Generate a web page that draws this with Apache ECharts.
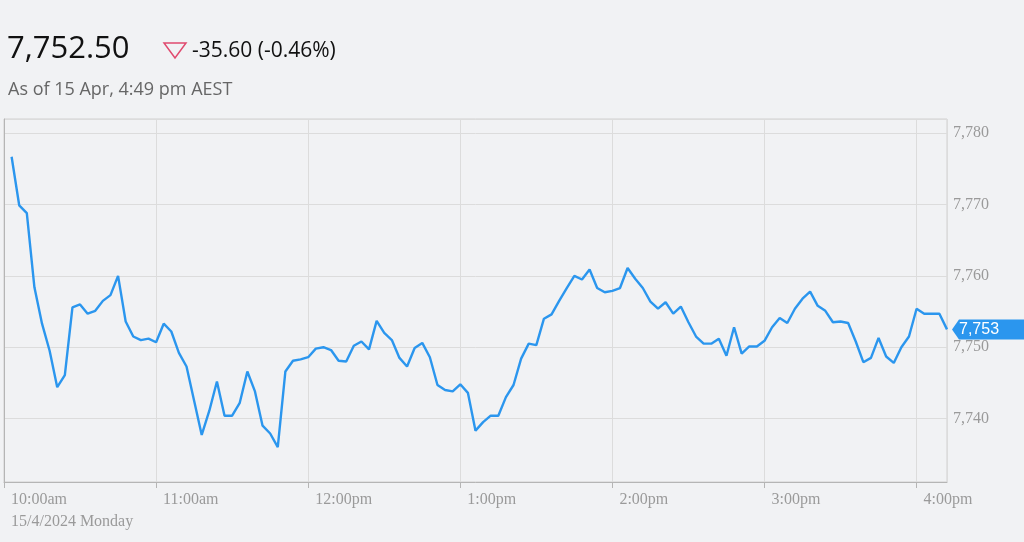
<!DOCTYPE html>
<html>
<head>
<meta charset="utf-8">
<script src="https://cdn.jsdelivr.net/npm/echarts@6/dist/echarts.min.js"></script>
<style>
  html, body { margin: 0; padding: 0; background: #f1f2f4; }
  #chart { width: 1024px; height: 542px; }
</style>
</head>
<body>
<div id="chart"></div>
<script>
// minutes after 10:00am, one quote every 3 minutes (10:03am .. 4:12pm)
var firstMinute = 3;
var stepMinutes = 3;
var prices = [
  7776.7, 7769.9, 7768.8, 7758.4, 7753.3, 7749.5, 7744.4, 7746.1, 7755.6, 7756.0,
  7754.7, 7755.1, 7756.5, 7757.3, 7760.0, 7753.6, 7751.5, 7751.0, 7751.2, 7750.7,
  7753.3, 7752.2, 7749.2, 7747.3, 7742.5, 7737.7, 7741.1, 7745.2, 7740.4, 7740.4,
  7742.2, 7746.6, 7743.8, 7739.0, 7737.9, 7736.0, 7746.6, 7748.1, 7748.3, 7748.6,
  7749.8, 7750.0, 7749.6, 7748.1, 7748.0, 7750.2, 7750.8, 7749.7, 7753.7, 7752.0,
  7751.0, 7748.5, 7747.3, 7749.9, 7750.6, 7748.6, 7744.7, 7744.0, 7743.8, 7744.8,
  7743.6, 7738.3, 7739.5, 7740.4, 7740.4, 7743.0, 7744.7, 7748.4, 7750.5, 7750.3,
  7754.0, 7754.6, 7756.5, 7758.3, 7760.0, 7759.5, 7760.9, 7758.3, 7757.7, 7757.9,
  7758.3, 7761.1, 7759.6, 7758.3, 7756.4, 7755.4, 7756.3, 7754.7, 7755.7, 7753.5,
  7751.5, 7750.5, 7750.5, 7751.2, 7748.8, 7752.8, 7749.1, 7750.1, 7750.1, 7750.9,
  7752.8, 7754.1, 7753.4, 7755.4, 7756.8, 7757.8, 7755.8, 7755.1, 7753.5, 7753.6,
  7753.4, 7750.8, 7747.9, 7748.5, 7751.3, 7748.7, 7747.8, 7750.0, 7751.5, 7755.4,
  7754.7, 7754.7, 7754.7, 7752.5
];
var yTicks = [7740, 7750, 7760, 7770, 7780];
var lastPrice = '7,752.50';
var change = '-35.60 (-0.46%)';
var asOf = 'As of 15 Apr, 4:49 pm AEST';
var dateLabel = '15/4/2024 Monday';

var points = prices.map(function (v, i) { return [firstMinute + i * stepMinutes, v]; });
var lastPoint = points[points.length - 1];

function timeLabel(m) {
  var h = 10 + Math.floor(m / 60);
  var mm = m % 60;
  var suffix = h >= 12 ? 'pm' : 'am';
  var h12 = h > 12 ? h - 12 : h;
  return h12 + ':' + (mm < 10 ? '0' : '') + mm + suffix;
}

var chart = echarts.init(document.getElementById('chart'));
chart.setOption({
  backgroundColor: '#f1f2f4',
  animation: false,
  grid: {
    left: 4, right: 77, top: 119, bottom: 60,
    show: true, borderColor: '#d0d0d0', borderWidth: 1
  },
  graphic: [
    { type: 'text', left: 7, top: 34,
      style: { text: lastPrice, fontFamily: 'Open Sans', fontSize: 31, fill: '#111' } },
    { type: 'polygon', shape: { points: [[164, 43], [186, 43], [175, 58]] },
      style: { fill: 'none', stroke: '#e04a6e', lineWidth: 1.5 } },
    { type: 'text', left: 192, top: 41,
      style: { text: change, fontFamily: 'Open Sans', fontSize: 21, fill: '#111' } },
    { type: 'text', left: 8, top: 81,
      style: { text: asOf, fontFamily: 'Open Sans', fontSize: 18, fill: '#666' } }
  ],
  xAxis: {
    type: 'value',
    min: 0, max: 372, interval: 60,
    axisLine: { lineStyle: { color: '#b5b5b5' } },
    axisTick: { show: true, length: 6, lineStyle: { color: '#b5b5b5' } },
    splitLine: { lineStyle: { color: '#dcdcdc' } },
    axisLabel: {
      showMaxLabel: false,
      align: 'left', padding: [0, 0, 0, 7], margin: 7,
      fontFamily: 'Liberation Serif', fontSize: 16, color: '#9a9a9a', lineHeight: 22,
      formatter: function (v) {
        return v === 0 ? timeLabel(v) + '\n' + dateLabel : timeLabel(v);
      }
    }
  },
  yAxis: {
    type: 'value', position: 'right',
    min: 7731.1, max: 7782, splitNumber: 5,
    axisLine: { show: true, lineStyle: { color: '#b5b5b5' } },
    axisTick: { show: false },
    splitLine: { lineStyle: { color: '#dcdcdc' } },
    axisLabel: {
      showMinLabel: false, showMaxLabel: false, margin: 6,
      fontFamily: 'Liberation Serif', fontSize: 16, color: '#9a9a9a',
      formatter: function (v) { return yTicks.indexOf(v) >= 0 ? echarts.format.addCommas(v) : ''; }
    }
  },
  series: [{
    type: 'line',
    data: points,
    showSymbol: false,
    lineStyle: { color: '#2b96ee', width: 2.4 },
    markPoint: {
      silent: true,
      data: [{ coord: lastPoint, value: Math.round(lastPoint[1]) }],
      symbol: 'path://M0,10 L7,0 L80,0 L80,20 L7,20 Z',
      symbolSize: [80, 20],
      symbolKeepAspect: false,
      symbolOffset: [45, 0],
      itemStyle: { color: '#2b96ee' },
      label: {
        show: true, position: [7, 2],
        fontFamily: 'Liberation Sans', fontSize: 16, color: '#fff',
        formatter: function (p) { return echarts.format.addCommas(p.value); }
      }
    }
  }]
});
</script>
</body>
</html>
